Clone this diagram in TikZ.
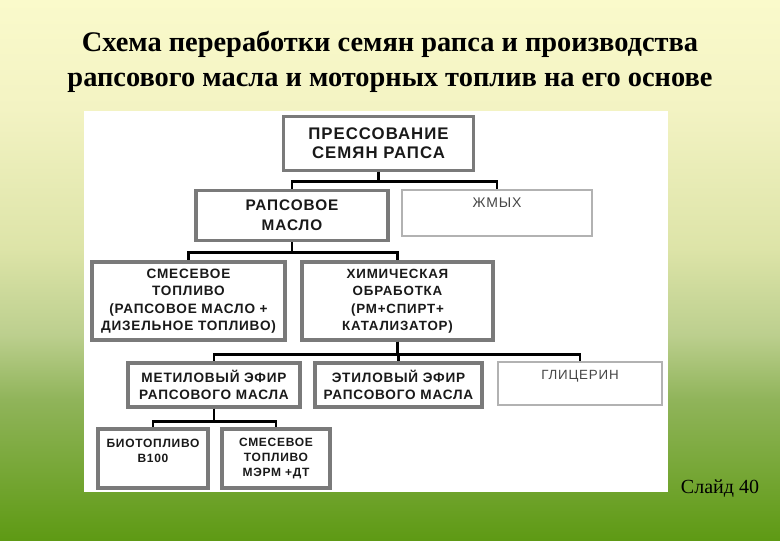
\documentclass[tikz,border=0pt]{standalone}
\usepackage{fontspec}
\setmainfont{Liberation Serif}
\newfontfamily\boxfont[LetterSpace=6]{Liberation Sans}

\definecolor{bgA}{RGB}{250,250,203}
\definecolor{bgA2}{RGB}{243,243,195}
\definecolor{bgB}{RGB}{221,228,168}
\definecolor{bgB2}{RGB}{188,207,142}
\definecolor{bgC}{RGB}{144,180,90}
\definecolor{bgD}{RGB}{94,154,20}
\definecolor{boxgray}{RGB}{122,122,122}
\definecolor{thingray}{RGB}{178,178,178}
\definecolor{textgray}{RGB}{70,70,70}

\pgfdeclareverticalshading{slidebg}{100bp}{color(0bp)=(bgD); color(25bp)=(bgD); color(38bp)=(bgC); color(44bp)=(bgB2); color(52bp)=(bgB); color(65bp)=(bgA2); color(75bp)=(bgA); color(100bp)=(bgA)}

\begin{document}
\begin{tikzpicture}[x=0.75pt, y=-0.75pt,
    heavy/.style={draw=boxgray, line width=2.4pt, fill=white, align=center, inner sep=2pt, text=black!90},
    light/.style={draw=thingray, line width=1.2pt, fill=white, align=center, inner sep=2pt, text=textgray},
    link/.style={line width=2pt, black}]
    % фон слайда и белое поле схемы
    \useasboundingbox (0,0) rectangle (780,540);
    \shade[shading=slidebg] (0,0) rectangle (780,540);
    \fill[white] (84,111) rectangle (668,492);

    % заголовок
    \node[font=\bfseries\fontsize{21.3}{26}\selectfont, align=center] (title) at (390,62)
        {Схема переработки семян рапса и производства\\рапсового масла и моторных топлив на его основе};

    % первый уровень
    \node[heavy, minimum width=143pt, minimum height=40pt, font=\boxfont\bfseries\fontsize{12.6}{14.3}\selectfont]
        (press) at (378.5,143.5) {ПРЕССОВАНИЕ\\СЕМЯН РАПСА};

    % второй уровень
    \node[heavy, minimum width=144pt, minimum height=38pt, font=\boxfont\bfseries\fontsize{11.5}{15}\selectfont]
        (oil) at (292,215.5) {РАПСОВОЕ\\МАСЛО};
    \node[light, minimum width=142.5pt, minimum height=34.5pt, font=\boxfont\fontsize{10.5}{15}\selectfont]
        (cake) at (497,213) {ЖМЫХ\\\mbox{}};

    % третий уровень
    \node[heavy, minimum width=144.75pt, minimum height=58.5pt, font=\boxfont\bfseries\fontsize{10.2}{13.1}\selectfont]
        (blend) at (188.5,301) {СМЕСЕВОЕ\\ТОПЛИВО\\(РАПСОВОЕ МАСЛО +\\ДИЗЕЛЬНОЕ ТОПЛИВО)};
    \node[heavy, minimum width=143.25pt, minimum height=58.5pt, font=\boxfont\bfseries\fontsize{10}{13.1}\selectfont]
        (chem) at (397.5,301) {ХИМИЧЕСКАЯ\\ОБРАБОТКА\\(РМ+СПИРТ+\\КАТАЛИЗАТОР)};

    % четвёртый уровень
    \node[heavy, minimum width=129pt, minimum height=33pt, font=\boxfont\bfseries\fontsize{10.2}{12.9}\selectfont]
        (methyl) at (214,385) {МЕТИЛОВЫЙ ЭФИР\\РАПСОВОГО МАСЛА};
    \node[heavy, minimum width=125.25pt, minimum height=33pt, font=\boxfont\bfseries\fontsize{10.2}{12.9}\selectfont]
        (ethyl) at (398.5,385) {ЭТИЛОВЫЙ ЭФИР\\РАПСОВОГО МАСЛА};
    \node[light, minimum width=123pt, minimum height=32.25pt, font=\boxfont\fontsize{10}{13}\selectfont]
        (glyc) at (580,383.5) {ГЛИЦЕРИН\\\mbox{}};

    % пятый уровень
    \node[heavy, minimum width=82.5pt, minimum height=44.25pt, font=\boxfont\bfseries\fontsize{9}{11.3}\selectfont]
        (bio) at (153,458.5) {БИОТОПЛИВО\\В100\\\mbox{}};
    \node[heavy, minimum width=81pt, minimum height=44.25pt, font=\boxfont\bfseries\fontsize{9}{11.3}\selectfont]
        (mix) at (276,458.5) {СМЕСЕВОЕ\\ТОПЛИВО\\МЭРМ +ДТ};

    % связи
    \draw[link] (press.south) -- ++(0,10) -| (oil.north);
    \draw[link] (press.south) -- ++(0,10) -| (cake.north);
    \draw[link] (oil.south) -- ++(0,10) -| (blend.north);
    \draw[link] (oil.south) -- ++(0,10) -| (chem.north);
    \draw[link] (chem.south) -- ++(0,13) -| (methyl.north);
    \draw[link] (chem.south) -- ++(0,13) -| (ethyl.north);
    \draw[link] (chem.south) -- ++(0,13) -| (glyc.north);
    \draw[link] (methyl.south) -- ++(0,13) -| (bio.north);
    \draw[link] (methyl.south) -- ++(0,13) -| (mix.north);

    % номер слайда
    \node[font=\fontsize{15}{18}\selectfont] (slide) at (720,489) {Слайд 40};
\end{tikzpicture}
\end{document}
